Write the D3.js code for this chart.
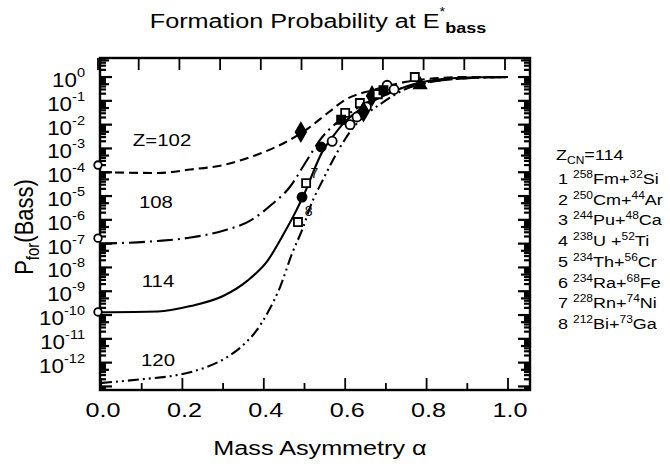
<!DOCTYPE html>
<html><head><meta charset="utf-8">
<script src="https://cdn.jsdelivr.net/npm/d3@7"></script>
<style>body{margin:0;background:#fff}svg{display:block}text{font-family:"Liberation Sans",Arial,Helvetica,sans-serif;fill:#000}</style>
</head><body><svg id="c" width="670" height="468"></svg>
<script>
// ---- data ----
const z102Alpha = [0, 0.14, 0.22, 0.30, 0.38, 0.45, 0.51, 0.56, 0.60, 0.67, 0.75, 0.83, 0.90, 1.0];
const z102P = [1.0e-4, 9.3e-5, 1.3e-4, 2.0e-4, 5.2e-4, 1.7e-3, 7.2e-3, 3.4e-2, 1.1e-1, 2.9e-1, 6.3e-1, 9.1e-1, 1.0, 1.0];
const z108Alpha = [0, 0.14, 0.22, 0.30, 0.37, 0.42, 0.464, 0.506, 0.54, 0.604, 0.68, 0.735, 0.79, 0.90, 1.0];
const z108P = [1.0e-7, 1.3e-7, 1.8e-7, 3.5e-7, 1.0e-6, 4.5e-6, 2.4e-5, 3.2e-4, 2.5e-3, 2.5e-2, 1.4e-1, 3.3e-1, 5.6e-1, 8.9e-1, 1.0];
const z114Alpha = [0, 0.14, 0.22, 0.30, 0.36, 0.41, 0.45, 0.48, 0.497, 0.545, 0.57, 0.595, 0.65, 0.70, 0.75, 0.80, 0.90, 1.0];
const z114P = [1.3e-10, 1.4e-10, 2.4e-10, 6.3e-10, 2.8e-9, 2.0e-8, 2.8e-7, 2.5e-6, 1.0e-5, 7.9e-4, 3.2e-3, 1.1e-2, 6.3e-2, 1.8e-1, 4.0e-1, 6.6e-1, 9.5e-1, 1.0];
const z120Alpha = [0, 0.10, 0.187, 0.26, 0.31, 0.35, 0.38, 0.41, 0.44, 0.47, 0.497, 0.514, 0.545, 0.60, 0.63, 0.69, 0.75, 0.80, 0.90, 1.0];
const z120P = [1.4e-13, 2.0e-13, 3.0e-13, 6.6e-13, 1.7e-12, 5.6e-12, 2.0e-11, 1.3e-10, 1.5e-9, 4.1e-8, 5.0e-7, 3.5e-6, 4.7e-5, 2.5e-3, 1.2e-2, 8.1e-2, 3.2e-1, 5.6e-1, 8.9e-1, 1.0];
const curveLabels = ["Z=102", "108", "114", "120"];
const curveLabelAlpha = [0.15, 0.135, 0.14, 0.14];
const curveLabelP = [1.3e-3, 3.2e-6, 1.5e-9, 7e-13];
const axisCircleP = [2.0e-4, 1.7e-7, 1.35e-10];
const markerAlpha = [0.491, 0.541, 0.568, 0.504, 0.494, 0.484, 0.600, 0.590, 0.612, 0.629, 0.636, 0.652, 0.666, 0.680, 0.703, 0.694, 0.771, 0.784, 0.645, 0.72];
const markerP = [4.9e-3, 1.15e-3, 2.0e-3, 3.5e-5, 9.0e-6, 8.1e-7, 3.1e-2, 1.6e-2, 1.0e-2, 2.1e-2, 8.1e-2, 5.5e-2, 1.6e-1, 1.9e-1, 4.5e-1, 2.8e-1, 1.0, 4.7e-1, 3.5e-2, 3.0e-1];
const markerShape = ["diamond", "circle", "circle", "square", "circle", "square", "square", "square", "circle", "circle", "square", "circle", "diamond", "square", "circle", "square", "square", "triangle", "diamond", "circle"];
const markerFilled = [1, 1, 0, 0, 1, 0, 0, 1, 0, 0, 0, 0, 1, 0, 0, 1, 0, 1, 1, 0];
const pointTags = ["7", "8"];
const pointTagAlpha = [0.524, 0.51];
const pointTagP = [6.0e-5, 1.5e-6];
const xTicks = [0, 0.1, 0.2, 0.3, 0.4, 0.5, 0.6, 0.7, 0.8, 0.9, 1.0];
const xTickLabels = ["0.0", "0.2", "0.4", "0.6", "0.8", "1.0"];
const yDecades = [0, -1, -2, -3, -4, -5, -6, -7, -8, -9, -10, -11, -12];
const legendNums = ["1", "2", "3", "4", "5", "6", "7", "8"];
const legendA1 = ["258", "250", "244", "238", "234", "234", "228", "212"];
const legendS1 = ["Fm+", "Cm+", "Pu+", "U +", "Th+", "Ra+", "Rn+", "Bi+"];
const legendA2 = ["32", "44", "48", "52", "56", "68", "74", "73"];
const legendS2 = ["Si", "Ar", "Ca", "Ti", "Cr", "Fe", "Ni", "Ga"];

// ---- layout ----
const SX = 1.2;
const L = 100, R = 530, T = 58, B = 390;
const svg = d3.select("#c");
const x = d3.scaleLinear().domain([0, 1]).range([101, 508]);
const y = d3.scaleLog().domain([Math.pow(10, -13.15), Math.pow(10, 0.8)]).range([B, T]);

function stext(px, py, anchor, size, sx) {
  return svg.append("text").attr("transform", `translate(${px},${py}) scale(${sx || SX},1)`)
    .attr("text-anchor", anchor).attr("font-size", size);
}

// frame
svg.append("rect").attr("x", L).attr("y", T).attr("width", R - L).attr("height", B - T)
  .attr("fill", "none").attr("stroke", "#000").attr("stroke-width", 2.4);

// x ticks (bottom & top, inward)
const xt = svg.append("g").attr("stroke", "#000").attr("stroke-width", 1.8);
xTicks.forEach((v, i) => {
  const len = (i % 2 === 0) ? 12 : 7;
  xt.append("line").attr("x1", x(v)).attr("x2", x(v)).attr("y1", B).attr("y2", B - len);
  xt.append("line").attr("x1", x(v) - 3).attr("x2", x(v) - 3).attr("y1", T).attr("y2", T + 12);
});

// y log ticks (left & right, inward)
const yt = svg.append("g").attr("stroke", "#000").attr("stroke-width", 2.2);
const [d0, d1] = y.domain();
for (let k = -14; k <= 0; k++) {
  for (let m = 1; m <= 9; m++) {
    const v = m * Math.pow(10, k);
    if (v < d0 || v > d1) continue;
    const len = m === 1 ? 12 : (m === 5 ? 9 : 6);
    yt.append("line").attr("x1", L).attr("x2", L + len).attr("y1", y(v)).attr("y2", y(v));
    yt.append("line").attr("x1", R).attr("x2", R - len).attr("y1", y(v)).attr("y2", y(v));
  }
}

// x tick labels
xTickLabels.forEach(s => {
  stext(x(+s) + 2, 417, "middle", 21).text(s);
});
stext(320, 455, "middle", 21).text("Mass Asymmetry \u03b1");

// y tick labels
yDecades.forEach(k => {
  const t = stext(85, y(Math.pow(10, k)) + 10, "end", 20, 1.12);
  t.append("tspan").text("10");
  t.append("tspan").attr("dy", -10).attr("font-size", 13).text(k === 0 ? "0" : "-" + (-k));
});

// y axis title
const yl = svg.append("text").attr("transform", `translate(33,227) rotate(-90) scale(1,${SX})`)
  .attr("text-anchor", "middle").attr("font-size", 22);
yl.append("tspan").text("P");
yl.append("tspan").attr("dy", 5).attr("font-size", 15).text("for");
yl.append("tspan").attr("dy", -5).text("(Bass)");

// title
const tt = stext(318, 28, "middle", 21);
tt.append("tspan").text("Formation Probability at E");
tt.append("tspan").attr("dy", -12).attr("font-size", 12).text("*");
tt.append("tspan").attr("dy", 17).attr("font-size", 15).attr("font-weight", "bold").text("bass");

// curves
const line = d3.line().x(d => x(d[0])).y(d => y(d[1])).curve(d3.curveMonotoneX);
const curves = [
  [z102Alpha, z102P, "9,5"],
  [z108Alpha, z108P, "16,5,2,5"],
  [z114Alpha, z114P, null],
  [z120Alpha, z120P, "11,4,2,4,2,4"]
];
curves.forEach(([a, p, dash]) => {
  const path = svg.append("path").datum(a.map((v, i) => [v, p[i]]))
    .attr("d", line).attr("fill", "none").attr("stroke", "#000").attr("stroke-width", 2.1);
  if (dash) path.attr("stroke-dasharray", dash);
});

// curve labels
curveLabels.forEach((s, i) => {
  stext(x(curveLabelAlpha[i]), y(curveLabelP[i]), "middle", 17).text(s);
});

// open circles on the axis
axisCircleP.forEach(p => {
  svg.append("circle").attr("cx", x(0) - 3).attr("cy", y(p)).attr("r", 3.8)
    .attr("fill", "#fff").attr("stroke", "#000").attr("stroke-width", 1.8);
});

// markers
const sym = { circle: d3.symbolCircle, square: d3.symbolSquare, diamond: d3.symbolDiamond, triangle: d3.symbolTriangle };
markerAlpha.forEach((a, i) => {
  const filled = markerFilled[i] === 1;
  svg.append("path")
    .attr("d", d3.symbol().type(sym[markerShape[i]]).size(markerShape[i] === "diamond" ? 95 : 65)())
    .attr("transform", `translate(${x(a)},${y(markerP[i])})`)
    .attr("fill", filled ? "#000" : "#fff").attr("stroke", "#000").attr("stroke-width", 1.8);
});
pointTags.forEach((s, i) => {
  stext(x(pointTagAlpha[i]), y(pointTagP[i]), "middle", 14, 1).text(s);
});

// legend
const lg = stext(556, 160, "start", 15);
lg.append("tspan").text("Z");
lg.append("tspan").attr("dy", 4).attr("font-size", 10).text("CN");
lg.append("tspan").attr("dy", -4).text("=114");
legendNums.forEach((n, i) => {
  const t = stext(558, 184 + i * 20.7, "start", 15);
  t.append("tspan").text(n + " ");
  t.append("tspan").attr("dy", -6).attr("font-size", 10).text(legendA1[i]);
  t.append("tspan").attr("dy", 6).text(legendS1[i]);
  t.append("tspan").attr("dy", -6).attr("font-size", 10).text(legendA2[i]);
  t.append("tspan").attr("dy", 6).text(legendS2[i]);
});
</script></body></html>
